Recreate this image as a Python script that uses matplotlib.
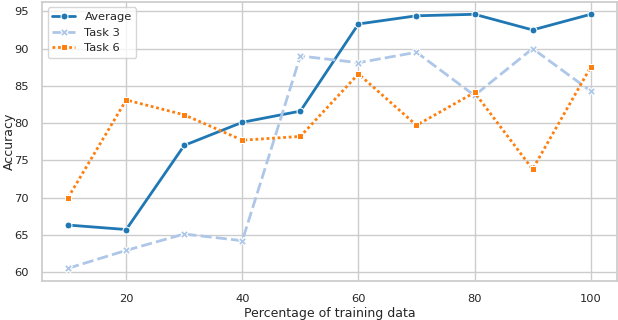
import matplotlib
matplotlib.use("Agg")
import matplotlib.pyplot as plt
import seaborn as sns

# percentage of training data
pct = [10, 20, 30, 40, 50, 60, 70, 80, 90, 100]

# accuracy per series
average = [66.3, 65.7, 77.0, 80.1, 81.6, 93.3, 94.4, 94.6, 92.5, 94.6]
task3 = [60.5, 62.9, 65.1, 64.2, 89.0, 88.1, 89.5, 83.7, 90.0, 84.3]
task6 = [70.0, 83.1, 81.1, 77.7, 78.2, 86.6, 79.7, 84.1, 73.8, 87.5]

series_names = ["Average", "Task 3", "Task 6"]
colors = ["#1f77b4", "#aec7e8", "#ff7f0e"]
markers = ["o", "X", "s"]
dashes = [None, (4, 1.5), (1, 1)]
msizes = [5, 5.5, 5]


def main():
    sns.set_theme(style="whitegrid", font_scale=0.75)

    fig, ax = plt.subplots(figsize=(6.18, 3.2), dpi=100)
    for name, vals, c, m, d, ms in zip(series_names, [average, task3, task6],
                                       colors, markers, dashes, msizes):
        line, = ax.plot(pct, vals, color=c, marker=m, markersize=ms,
                        markeredgecolor="white", markeredgewidth=0.75,
                        linewidth=2, label=name)
        if d is not None:
            line.set_dashes(d)

    ax.set_xlabel("Percentage of training data", labelpad=2)
    ax.set_ylabel("Accuracy")
    ax.yaxis.set_label_coords(-0.046, 0.5)
    ax.legend(loc="upper left")

    fig.subplots_adjust(left=0.068, right=0.998, bottom=0.122, top=0.995)
    fig.savefig("out.png", dpi=100)


if __name__ == '__main__':
    main()
